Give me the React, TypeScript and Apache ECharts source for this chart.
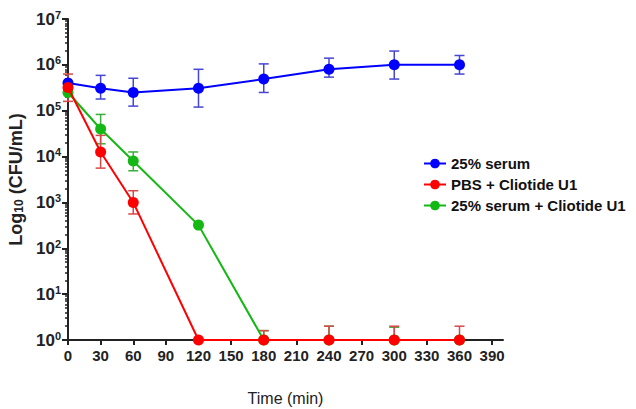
import React, { useEffect, useRef } from "react";
import * as echarts from "echarts";

const timePoints = [0, 30, 60, 120, 180, 240, 300, 360];
const xTickLabels = [0, 30, 60, 90, 120, 150, 180, 210, 240, 270, 300, 330, 360, 390];

const serumMean = [4e5, 3.1e5, 2.5e5, 3.1e5, 4.9e5, 8e5, 1e6, 1e6];
const serumLow = [4e5, 1.8e5, 1.26e5, 1.2e5, 2.5e5, 5.4e5, 4.9e5, 6.3e5];
const serumHigh = [4e5, 5.9e5, 5.1e5, 8e5, 1.05e6, 1.4e6, 2.0e6, 1.6e6];

const pbsMean = [3.2e5, 1.26e4, 1e3, 1, 1, 1, 1, 1];
const pbsLow = [1.6e5, 5.6e3, 5.6e2, 1, 1, 1, 1, 1];
const pbsHigh = [6.3e5, 2.9e4, 1.8e3, 1, 1.6, 2, 2, 2];

const mixMean = [2.5e5, 4e4, 8e3, 3.2e2, 1, 1, 1, 1];
const mixLow = [2.5e5, 1.9e4, 4.9e3, 3.2e2, 1, 1, 1, 1];
const mixHigh = [2.5e5, 8.3e4, 1.26e4, 3.2e2, 1.6, 2, 1.9, 1];

const seriesNames = ["25% serum", "PBS + Cliotide U1", "25% serum + Cliotide U1"];
const colors = ["#0000ff", "#ff0000", "#14b814"];
const barColors = ["#4646d2", "#d84848", "#3aae3a"];

const FONT = 'Arial, "Liberation Sans", Helvetica, sans-serif';

function errorSeries(name: string, low: number[], high: number[], color: string) {
  const data = timePoints.map((t, i) => [t, low[i], high[i]]);
  return {
    type: "custom",
    name: name + " err",
    silent: true,
    z: 1,
    data,
    encode: { x: 0, y: [1, 2] },
    renderItem: (params: any, api: any) => {
      const x = api.value(0);
      const lo = api.value(1);
      const hi = api.value(2);
      if (lo === hi) return { type: "group", children: [] };
      const pLo = api.coord([x, lo]);
      const pHi = api.coord([x, hi]);
      const hw = 5;
      const style = { stroke: color, lineWidth: 1.5, fill: "none" };
      return {
        type: "group",
        children: [
          { type: "line", shape: { x1: pLo[0], y1: pLo[1], x2: pHi[0], y2: pHi[1] }, style },
          { type: "line", shape: { x1: pHi[0] - hw, y1: pHi[1], x2: pHi[0] + hw, y2: pHi[1] }, style },
          { type: "line", shape: { x1: pLo[0] - hw, y1: pLo[1], x2: pLo[0] + hw, y2: pLo[1] }, style },
        ],
      };
    },
  };
}

function lineSeries(name: string, mean: number[], color: string, z: number) {
  return {
    type: "line",
    name,
    z,
    data: timePoints.map((t, i) => [t, mean[i]]),
    symbol: "circle",
    symbolSize: 11,
    lineStyle: { color, width: 2 },
    itemStyle: { color },
  };
}

export default function App() {
  const ref = useRef<HTMLDivElement>(null);
  useEffect(() => {
    if (!ref.current) return;
    const chart = echarts.init(ref.current, null, { renderer: "svg" });
    chart.setOption({
      animation: false,
      backgroundColor: "#ffffff",
      textStyle: { fontFamily: FONT },
      grid: { left: 68, right: 133, top: 19, bottom: 69, containLabel: false, outerBoundsMode: "none" },
      legend: {
        orient: "vertical",
        left: 418,
        top: 151,
        itemWidth: 22,
        itemHeight: 12,
        itemGap: 6,
        data: [seriesNames[0], seriesNames[1], seriesNames[2]],
        textStyle: { fontFamily: FONT, fontSize: 15, fontWeight: "bold", color: "#111" },
      },
      xAxis: {
        type: "value",
        min: 0,
        max: 400,
        name: "Time (min)",
        nameLocation: "middle",
        nameGap: 50,
        nameTextStyle: { fontFamily: FONT, fontSize: 16, color: "#222" },
        axisLine: { show: true, lineStyle: { color: "#222", width: 2 } },
        axisTick: { show: true, length: 5, lineStyle: { color: "#222", width: 2 }, customValues: xTickLabels },
        axisLabel: {
          customValues: xTickLabels,
          fontFamily: FONT,
          fontSize: 15,
          fontWeight: "bold",
          color: "#222",
          margin: 8,
        },
        splitLine: { show: false },
      },
      yAxis: {
        type: "log",
        logBase: 10,
        min: 1,
        max: 1e7,
        interval: 1,
        name: "Log{sub|10} (CFU/mL)",
        nameLocation: "middle",
        nameRotate: 90,
        nameGap: 41,
        nameTextStyle: {
          fontFamily: FONT,
          fontSize: 18,
          fontWeight: "bold",
          color: "#222",
          rich: {
            sub: { fontFamily: FONT, fontSize: 12, fontWeight: "bold", color: "#222", padding: [7, 0, 0, 0] },
          },
        },
        axisLine: { show: true, lineStyle: { color: "#222", width: 2 } },
        axisTick: { show: true, length: 6, lineStyle: { color: "#222", width: 2 } },
        minorTick: { show: true, splitNumber: 9, length: 3, lineStyle: { color: "#222", width: 1.5 } },
        axisLabel: {
          margin: 7,
          formatter: (v: number) => `{b|10}{s|${Math.round(Math.log10(v))}}`,
          rich: {
            b: { fontFamily: FONT, fontSize: 17, fontWeight: "bold", color: "#222", lineHeight: 20 },
            s: { fontFamily: FONT, fontSize: 11, fontWeight: "bold", color: "#222", verticalAlign: "top", lineHeight: 13 },
          },
        },
        splitLine: { show: false },
        minorSplitLine: { show: false },
      },
      series: [
        errorSeries(seriesNames[0], serumLow, serumHigh, barColors[0]),
        errorSeries(seriesNames[2], mixLow, mixHigh, barColors[2]),
        errorSeries(seriesNames[1], pbsLow, pbsHigh, barColors[1]),
        lineSeries(seriesNames[0], serumMean, colors[0], 3),
        lineSeries(seriesNames[2], mixMean, colors[2], 4),
        lineSeries(seriesNames[1], pbsMean, colors[1], 5),
      ],
    });
    return () => chart.dispose();
  }, []);
  return (
    <div
      ref={ref}
      style={{ position: "fixed", left: 0, top: 0, width: 636, height: 409, background: "#fff" }}
    />
  );
}
